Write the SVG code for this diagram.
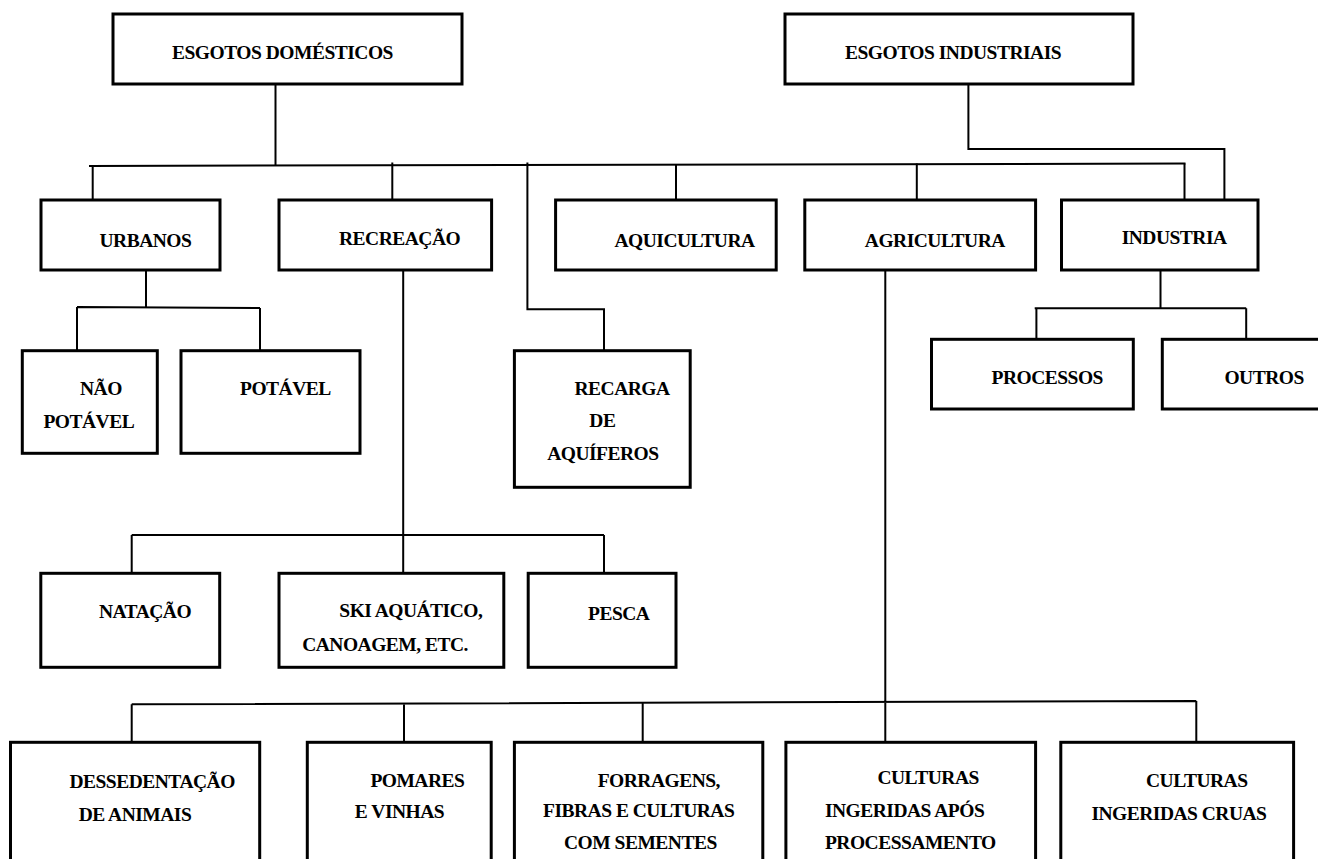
<svg xmlns="http://www.w3.org/2000/svg" width="1318" height="859" viewBox="0 0 1318 859">
<style>
.box{fill:#fff;stroke:#000;stroke-width:3}
.c{fill:none;stroke:#000;stroke-width:2}
text{font-family:"Liberation Serif","Times New Roman",serif;font-weight:bold;font-size:19.5px;letter-spacing:-0.5px;fill:#000}
</style>
<rect width="1318" height="859" fill="#fff"/>
<g id="connectors">
<path class="c" d="M275.5 84 V166"/>
<path class="c" d="M89 166 L1185.5 163.5"/>
<path class="c" d="M92.7 165 V200"/>
<path class="c" d="M392.3 162.5 V200"/>
<path class="c" d="M527.4 162.5 V309.3 H604 V350.7"/>
<path class="c" d="M676 164 V200"/>
<path class="c" d="M916.8 163.5 V200"/>
<path class="c" d="M1184.5 163.5 V200"/>
<path class="c" d="M968.4 84 V149 H1224.4 V200"/>
<path class="c" d="M146 270 V307 M77 307 L260 308 M77 307 V350.7 M260 308 V350.7"/>
<path class="c" d="M403.2 270 V573 M131.7 535 H604 M131.7 535 V573 M604 535 V573"/>
<path class="c" d="M1160.5 264 V308.3 M1034.7 308.3 H1246.2 M1036.4 308.3 V339.3 M1246.2 308.3 V339.3"/>
<path class="c" d="M885.3 270 V742 M131.7 704.3 L1196.3 701 M131.7 704.3 V742 M404 704 V742 M642.7 703 V742 M1196.3 701 V742"/>
</g>
<g id="esgotos-domesticos"><rect class="box" x="113" y="14" width="349" height="70"/><text x="172" y="59.3">ESGOTOS DOMÉSTICOS</text></g>
<g id="esgotos-industriais"><rect class="box" x="785" y="14" width="348" height="70"/><text x="845" y="59">ESGOTOS INDUSTRIAIS</text></g>
<g id="urbanos"><rect class="box" x="41" y="200" width="179" height="70"/><text x="99.5" y="246.7">URBANOS</text></g>
<g id="recreacao"><rect class="box" x="279" y="200" width="212.6" height="70"/><text x="339" y="245">RECREAÇÃO</text></g>
<g id="aquicultura"><rect class="box" x="555.6" y="200" width="220.6" height="70"/><text x="614.5" y="246.7">AQUICULTURA</text></g>
<g id="agricultura"><rect class="box" x="804.8" y="200" width="230.8" height="70"/><text x="864.8" y="246.7">AGRICULTURA</text></g>
<g id="industria"><rect class="box" x="1061.5" y="200" width="196.5" height="70"/><text x="1121.7" y="244.3">INDUSTRIA</text></g>
<g id="nao-potavel"><rect class="box" x="22.3" y="350.7" width="135" height="102.6"/><text x="80" y="395">NÃO</text><text x="43.4" y="428.3">POTÁVEL</text></g>
<g id="potavel"><rect class="box" x="181" y="350.7" width="179" height="102.6"/><text x="240" y="395">POTÁVEL</text></g>
<g id="recarga"><rect class="box" x="514.4" y="350.7" width="175.8" height="136.6"/><text x="574.5" y="395">RECARGA</text><text x="589.3" y="426.7">DE</text><text x="547.2" y="460">AQUÍFEROS</text></g>
<g id="processos"><rect class="box" x="931.5" y="339.3" width="201.8" height="69.7"/><text x="991.5" y="384.3">PROCESSOS</text></g>
<g id="outros"><rect class="box" x="1162.3" y="339.3" width="170" height="69.7"/><text x="1224.4" y="384.3">OUTROS</text></g>
<g id="natacao"><rect class="box" x="40.8" y="573.3" width="178.9" height="94"/><text x="98.9" y="618.3">NATAÇÃO</text></g>
<g id="ski"><rect class="box" x="279" y="573.3" width="224.8" height="94"/><text x="339.3" y="616.7">SKI AQUÁTICO,</text><text x="302.2" y="651">CANOAGEM, ETC.</text></g>
<g id="pesca"><rect class="box" x="528.2" y="573.3" width="147.8" height="94"/><text x="588" y="620">PESCA</text></g>
<g id="dessedentacao"><rect class="box" x="10.5" y="742.3" width="249.2" height="130"/><text x="69.4" y="788.3">DESSEDENTAÇÃO</text><text x="78.7" y="820.7">DE ANIMAIS</text></g>
<g id="pomares"><rect class="box" x="307.3" y="742.3" width="183.9" height="130"/><text x="370.4" y="786.7">POMARES</text><text x="354.8" y="818.3">E VINHAS</text></g>
<g id="forragens"><rect class="box" x="514.4" y="742.3" width="248.4" height="130"/><text x="597.7" y="786.7">FORRAGENS,</text><text x="543" y="817.3">FIBRAS E CULTURAS</text><text x="564" y="849.3">COM SEMENTES</text></g>
<g id="culturas-processamento"><rect class="box" x="785.9" y="742.3" width="249.7" height="130"/><text x="877.4" y="784.3">CULTURAS</text><text x="824.9" y="816.7">INGERIDAS APÓS</text><text x="824.9" y="849.3">PROCESSAMENTO</text></g>
<g id="culturas-cruas"><rect class="box" x="1060.8" y="742.3" width="232.8" height="130"/><text x="1146" y="787.3">CULTURAS</text><text x="1091.4" y="820">INGERIDAS CRUAS</text></g>
</svg>
